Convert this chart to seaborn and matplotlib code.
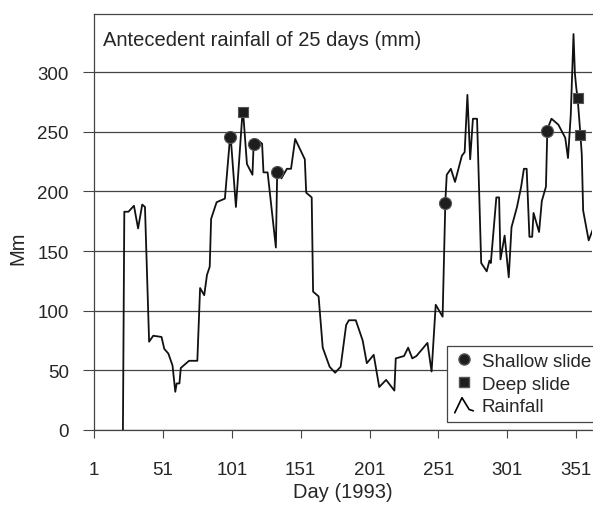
import matplotlib
matplotlib.use('Agg')
import matplotlib.pyplot as plt
import seaborn as sns
import pandas as pd
from matplotlib.lines import Line2D
from matplotlib.legend_handler import HandlerBase

# rainfall series (antecedent 25 days, mm)
days = [22, 23, 26, 30, 33, 36, 38, 41, 44, 50, 52, 55, 58, 60, 61, 63, 64, 70, 76, 78,
        81, 83, 85, 86, 90, 96, 100, 104, 109, 112, 116, 117, 120, 123, 124, 127, 133, 134, 137, 141,
        144, 147, 154, 155, 159, 160, 164, 167, 172, 176, 180, 184, 186, 191, 196, 199, 204, 208, 213, 219,
        220, 226, 229, 232, 235, 243, 246, 249, 254, 256, 257, 260, 263, 268, 270, 272, 274, 276, 279, 282,
        286, 288, 289, 293, 295, 296, 299, 302, 304, 308, 311, 313, 315, 317, 319, 320, 324, 326, 329, 330,
        333, 338, 343, 345, 347, 349, 350, 351, 352, 354, 355, 356, 360, 363]
rain = [0, 183, 183, 188, 169, 189, 187, 74, 79, 78, 68, 64, 54, 32, 39, 39, 52, 58, 58, 119,
        113, 130, 137, 177, 191, 194, 249, 187, 270, 223, 214, 244, 243, 240, 216, 216, 153, 219, 211, 219,
        219, 244, 227, 199, 195, 116, 112, 69, 53, 48, 53, 88, 92, 92, 75, 56, 63, 36, 42, 33,
        60, 62, 69, 60, 62, 73, 49, 105, 95, 192, 214, 219, 208, 230, 233, 281, 227, 261, 261, 140,
        133, 142, 140, 195, 195, 143, 163, 128, 170, 187, 204, 219, 219, 162, 162, 182, 166, 192, 204, 252,
        261, 256, 245, 228, 264, 332, 299, 287, 278, 248, 231, 184, 159, 168]

shallow_days = [100, 117, 134, 256, 330]
shallow_vals = [246, 240, 216, 190, 251]
deep_days = [109, 352, 354]
deep_vals = [267, 278, 247]

xticks = [1, 51, 101, 151, 201, 251, 301, 351]
yticks = [0, 50, 100, 150, 200, 250, 300]

sns.set_style('white')
plt.rcParams['font.family'] = ['Liberation Sans', 'DejaVu Sans']
plt.rcParams['font.size'] = 14


class PeakHandler(HandlerBase):
    # legend key drawn as a small peak like the original
    def create_artists(self, legend, orig_handle, xdescent, ydescent, width, height, fontsize, trans):
        x0 = -xdescent
        xs = [x0 + 0.05 * width, x0 + 0.4 * width, x0 + 0.75 * width, x0 + 0.95 * width]
        ys = [-ydescent - 0.1 * height, -ydescent + height * 1.05, -ydescent + 0.15 * height, -ydescent + 0.05 * height]
        ln = Line2D(xs, ys, color='black', lw=1.2, transform=trans)
        return [ln]


fig = plt.figure(figsize=(5.93, 5.10), dpi=100)
ax = fig.add_axes([0.1585, 0.155, 0.84, 0.816])

df = pd.DataFrame({'day': days, 'rain': rain})
sns.lineplot(data=df, x='day', y='rain', color='#111111', lw=1.3, ax=ax, sort=False)
sns.scatterplot(x=shallow_days, y=shallow_vals, marker='o', s=75, color='#1e1e1e',
                edgecolor='#555555', linewidth=0.8, ax=ax, zorder=5)
sns.scatterplot(x=deep_days, y=deep_vals, marker='s', s=45, color='#1e1e1e',
                edgecolor='#555555', linewidth=0.8, ax=ax, zorder=5)

ax.set_xlim(1, 362.5)
ax.set_ylim(0, 349)
ax.set_xticks(xticks)
ax.set_yticks(yticks)
ax.yaxis.grid(True, color='#444444', lw=0.9)
ax.set_axisbelow(True)
ax.tick_params(axis='both', bottom=True, left=True, direction='out', width=0.8,
               color='#444444', labelsize=13.5)
ax.tick_params(axis='x', length=6, pad=16)
ax.tick_params(axis='y', length=8, pad=10)
for s in ['left', 'bottom', 'top']:
    ax.spines[s].set_color('#444444')
    ax.spines[s].set_linewidth(0.9)
ax.spines['right'].set_visible(False)

ax.set_xlabel('Day (1993)', fontsize=14.5, labelpad=3)
ax.set_ylabel('Mm', fontsize=14.5)
ax.yaxis.set_label_coords(-0.133, 0.44)
ax.text(0.018, 0.925, 'Antecedent rainfall of 25 days (mm)', transform=ax.transAxes,
        fontsize=14.5, va='baseline', ha='left')

h_sh = Line2D([], [], marker='o', ls='none', color='#1e1e1e', markeredgecolor='#555555', markersize=8)
h_dp = Line2D([], [], marker='s', ls='none', color='#1e1e1e', markeredgecolor='#555555', markersize=7)
h_rn = Line2D([], [], color='black')
leg = ax.legend([h_sh, h_dp, h_rn], ['Shallow slide', 'Deep slide', 'Rainfall'],
                loc='lower left', bbox_to_anchor=(0.709, 0.019), borderaxespad=0,
                fancybox=False, framealpha=1, edgecolor='#444444', fontsize=13.5,
                handlelength=1.1, handletextpad=0.4, labelspacing=0.3, borderpad=0.35,
                handler_map={h_rn: PeakHandler()})
leg.get_frame().set_linewidth(0.9)

fig.savefig('out.png', dpi=100)
